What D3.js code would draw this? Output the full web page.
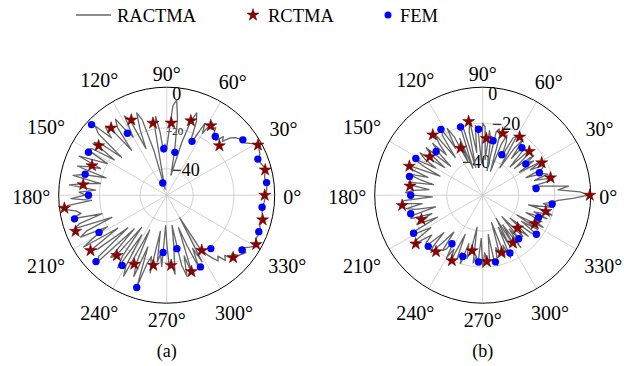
<!DOCTYPE html>
<html>
<head>
<meta charset="utf-8">
<script src="https://cdn.jsdelivr.net/npm/d3@7"></script>
<style>
  body { margin: 0; background: #fff; }
  svg { display: block; }
</style>
</head>
<body>
<svg id="chart" width="624" height="366"></svg>
<script>
// angles (deg) of the samples / markers
const lineAngles = d3.range(180).map(i => i * 2);
const starAngles = d3.range(25).map(i => i * 14.4);
const dotAngles = d3.range(25).map(i => 7.2 + i * 14.4);
const angleTicks = d3.range(12).map(i => i * 30);
const radialTicks = [0, -20, -40];

// (a) values in dB
const ractmaA = [
  -4.5, -4.0, -3.8, -3.5, -3.8, -4.2, -3.8, -3.0, -3.2, -4.0, -4.5, -4.2, -3.0, -2.5, -2.0, -2.5, -5, -7, -6.5, -8,
  -9, -11, -15, -13, -17, -14, -16, -12, -14, -11, -18, -13, -22, -25, -14, -10, -15, -26, -38, -43,
  -30, -15, -6, -9, -22, -30, -28, -32, -22, -14, -20, -45, -50, -30, -14, -10, -18, -28, -12, -9,
  -20, -16, -8, -12, -25, -10, -8, -14, -4, -8, -24, -12, -9, -22, -10, -8, -20, -14, -6, -18,
  -12, -7, -22, -11, -6, -20, -12, -5, -18, -10, -13, -6, -16, -4, -3, -8, -10, -5, -20, -8,
  -5, -24, -10, -6, -20, -12, -5, -24, -7, -10, -28, -8, -6, -30, -12, -14, -33, -16, -10, -30,
  -13, -8, -34, -16, -10, -26, -6, -18, -22, -14, -35, -20, -24, -18, -38, -30, -18, -20, -14, -28,
  -38, -18, -12, -22, -12, -36, -26, -14, -24, -16, -40, -22, -18, -15, -12, -14, -10, -12, -8, -10,
  -7, -6, -5, -7, -5, -3, -3.5, -4.5, -4, -4.5, -4, -5, -4.5, -4, -5, -5.5, -5, -5.5, -5, -4.8
];
const rctmaA = [
  -4.9, -3.1, -1.9, -17.5, -12.6, -14.6, -17.5, -17.0, -12.2, -10.2, -11.7, -13.6, -11.7,
  -2.4, -4.9, -6.8, -14.6, -15.6, -18.0, -18.5, -13.6, -20.9, -8.3, -2.9, -4.4
];
const femA = [
  -3.6, -4.9, -6.8, -15.6, -23.8, -31.6, -30.1, -46.7, -17.0, -2.4, -9.2, -11.7, -14.6,
  -6.3, -15.1, -5.4, -12.2, -5.4, -24.8, -26.3, -14.1, -19.0, -7.3, -4.4, -5.8
];

// (b) values in dB
const ractmaB = [
  -1, -6, -18, -12, -24, -32, -22, -20, -30, -22, -25, -34, -24, -22, -30, -22, -36, -26, -30, -24,
  -37, -26, -24, -38, -26, -24, -34, -22, -28, -42, -22, -24, -36, -28, -24, -30, -46, -26, -22, -24,
  -46, -28, -24, -40, -22, -20, -42, -26, -21, -36, -18, -24, -44, -22, -20, -44, -26, -40, -24, -18,
  -30, -17, -20, -34, -17, -22, -30, -20, -26, -36, -19, -24, -34, -18, -22, -30, -16, -24, -34, -16,
  -18, -28, -17, -24, -32, -18, -20, -30, -22, -17, -21, -32, -16, -15, -26, -17, -22, -33, -20, -18,
  -30, -22, -20, -32, -16, -18, -26, -15, -16, -24, -19, -18, -30, -20, -17, -26, -34, -22, -24, -30,
  -20, -26, -19, -36, -22, -26, -20, -32, -24, -28, -42, -22, -26, -22, -36, -20, -28, -22, -24, -38,
  -22, -20, -30, -26, -44, -24, -30, -22, -40, -28, -45, -26, -40, -24, -36, -28, -44, -28, -32, -26,
  -40, -26, -22, -34, -24, -38, -22, -28, -24, -34, -22, -30, -20, -24, -34, -20, -26, -22, -18, -10
];
const rctmaB = [
  -0.5, -21.1, -22.6, -24.5, -21.7, -23.9, -28.4, -18.3, -31.1, -16.5, -23.7, -16.2, -19.3,
  -14.9, -23.4, -14.0, -19.3, -19.8, -28.6, -23.1, -26.4, -28.6, -33.4, -27.0, -23.8
];
const femB = [
  -30.1, -26.1, -30.4, -25.8, -35.1, -29.2, -23.3, -20.2, -16.7, -24.5, -17.6, -18.0, -20.0,
  -18.7, -16.2, -18.5, -28.1, -24.2, -22.8, -22.3, -24.5, -28.6, -23.1, -26.6, -21.1
];

const R = 108;
const serif = '"Liberation Serif"';
const lineColor = '#666666';
const starColor = '#8b0000';
const dotColor = '#0000ff';
const gridColor = '#c8c8c8';

const svg = d3.select('#chart');
const rad = d => d * Math.PI / 180;
const starSym = d3.symbol(d3.symbolStar).size(46);

function drawPolar(cx, cy, rMin, line, stars, dots, tickLabels, caption) {
  const r = d3.scaleLinear().domain([rMin, 0]).range([0, R]).clamp(true);
  const g = svg.append('g').attr('transform', `translate(${cx}, ${cy})`);

  // grid
  g.selectAll('.ring')
    .data(radialTicks.filter(v => v < 0))
    .enter().append('circle')
    .attr('r', d => r(d))
    .attr('fill', 'none')
    .attr('stroke', gridColor)
    .attr('stroke-width', 0.8);

  g.selectAll('.spoke')
    .data(angleTicks)
    .enter().append('line')
    .attr('x1', 0).attr('y1', 0)
    .attr('x2', d => d3.pointRadial(rad(90 - d), R)[0])
    .attr('y2', d => d3.pointRadial(rad(90 - d), R)[1])
    .attr('stroke', gridColor)
    .attr('stroke-width', 0.8);

  g.append('circle')
    .attr('r', R)
    .attr('fill', 'none')
    .attr('stroke', '#000')
    .attr('stroke-width', 1);

  // angle labels
  angleTicks.forEach(t => {
    const txt = g.append('text')
      .text(t + '°')
      .style('font-family', serif)
      .attr('font-size', 20)
      .attr('text-anchor', 'middle')
      .attr('dy', '0.35em');
    const w = txt.node().getBBox().width;
    const c = Math.abs(Math.cos(rad(t)));
    const s = Math.abs(Math.sin(rad(t)));
    const dist = R + c * (8.5 + w / 2) + s * 15;
    const p = d3.pointRadial(rad(90 - t), dist);
    txt.attr('x', p[0]).attr('y', p[1] + 1.5);
  });

  // radial labels
  tickLabels.forEach(l => {
    g.append('text')
      .text(l.v === 0 ? '0' : '\u2212' + Math.abs(l.v))
      .style('font-family', serif)
      .attr('font-size', l.size)
      .attr('text-anchor', 'middle')
      .attr('dy', '0.35em')
      .attr('x', l.dx)
      .attr('y', -r(l.v) + l.dy);
  });

  // RACTMA line
  const pts = lineAngles.map((a, i) => [a, line[i]]);
  const lineGen = d3.lineRadial()
    .angle(d => rad(90 - d[0]))
    .radius(d => r(d[1]))
    .curve(d3.curveLinearClosed);
  g.append('path')
    .attr('d', lineGen(pts))
    .attr('fill', 'none')
    .attr('stroke', lineColor)
    .attr('stroke-width', 1.3)
    .attr('stroke-linejoin', 'round');

  // RCTMA stars
  g.selectAll('.star')
    .data(starAngles.map((a, i) => [a, stars[i]]))
    .enter().append('path')
    .attr('d', starSym)
    .attr('transform', d => {
      const p = d3.pointRadial(rad(90 - d[0]), r(d[1]));
      return `translate(${p[0]}, ${p[1]})`;
    })
    .attr('fill', starColor)
    .attr('stroke', '#600000')
    .attr('stroke-width', 0.5);

  // FEM dots
  g.selectAll('.dot')
    .data(dotAngles.map((a, i) => [a, dots[i]]))
    .enter().append('circle')
    .attr('r', 3.7)
    .attr('cx', d => d3.pointRadial(rad(90 - d[0]), r(d[1]))[0])
    .attr('cy', d => d3.pointRadial(rad(90 - d[0]), r(d[1]))[1])
    .attr('fill', dotColor);

  g.append('text')
    .text(caption)
    .style('font-family', serif)
    .attr('font-size', 18)
    .attr('text-anchor', 'middle')
    .attr('x', 0)
    .attr('y', 162);
}

drawPolar(166.7, 195.2, -53, ractmaA, rctmaA, femA, [
  { v: 0, dx: 10, dy: 6, size: 18 },
  { v: -20, dx: 8, dy: 3, size: 11 },
  { v: -40, dx: 19, dy: 0.5, size: 18 }
], '(a)');

drawPolar(482.7, 195.2, -60, ractmaB, rctmaB, femB, [
  { v: 0, dx: 10, dy: 6, size: 18 },
  { v: -20, dx: 23.5, dy: 0, size: 18 },
  { v: -40, dx: -6.5, dy: 2, size: 18 }
], '(b)');

// legend
const leg = svg.append('g');
leg.append('line')
  .attr('x1', 76).attr('x2', 111).attr('y1', 15).attr('y2', 15)
  .attr('stroke', lineColor).attr('stroke-width', 1.3);
leg.append('text').text('RACTMA')
  .style('font-family', serif)
  .attr('x', 117).attr('y', 21.5)
  .attr('font-size', 18.5);
leg.append('path').attr('d', starSym)
  .attr('transform', 'translate(253, 15)')
  .attr('fill', starColor).attr('stroke', '#600000').attr('stroke-width', 0.5);
leg.append('text').text('RCTMA')
  .style('font-family', serif)
  .attr('x', 268).attr('y', 21.5)
  .attr('font-size', 18.5);
leg.append('circle').attr('cx', 388).attr('cy', 15).attr('r', 3.5).attr('fill', dotColor);
leg.append('text').text('FEM')
  .style('font-family', serif)
  .attr('x', 400).attr('y', 21.5)
  .attr('font-size', 18.5);
</script>
</body>
</html>
